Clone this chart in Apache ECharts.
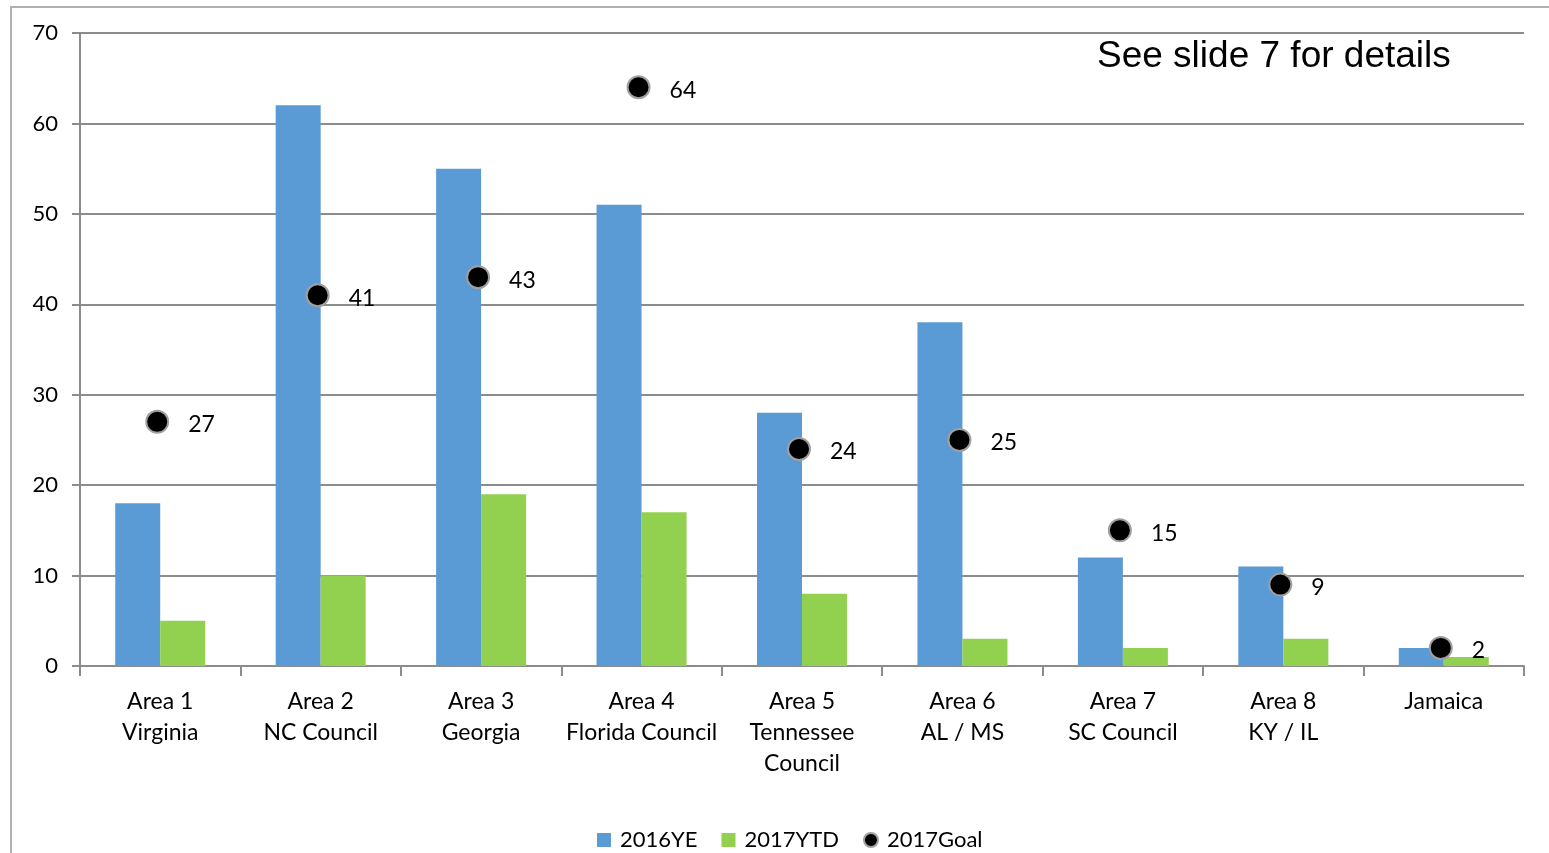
<!DOCTYPE html>
<html><head><meta charset="utf-8">
<script src="https://cdn.jsdelivr.net/npm/echarts@6/dist/echarts.min.js"></script>
<style>html,body{margin:0;padding:0;background:#fff}#c{width:1549px;height:853px}</style>
</head><body><div id="c"></div>
<script>
const categories = ['Area 1\nVirginia','Area 2\nNC Council','Area 3\nGeorgia','Area 4\nFlorida Council','Area 5\nTennessee\nCouncil','Area 6\nAL / MS','Area 7\nSC Council','Area 8\nKY / IL','Jamaica'];
const ye2016 = [18, 62, 55, 51, 28, 38, 12, 11, 2];
const ytd2017 = [5, 10, 19, 17, 8, 3, 2, 3, 1];
const goal2017 = [27, 41, 43, 64, 24, 25, 15, 9, 2];
const yTicks = [0, 10, 20, 30, 40, 50, 60, 70];

const chart = echarts.init(document.getElementById('c'));
const font = 'Lato, "Open Sans", sans-serif';
chart.setOption({
  animation: false,
  graphic: [
    {type:'rect', shape:{x:11, y:7, width:1600, height:900}, style:{fill:'none', stroke:'#b0b0b0', lineWidth:2}, silent:true},
    {type:'text', left:1097, top:38, style:{text:'See slide 7 for details', font:'37px "Liberation Sans", Arial, sans-serif', fill:'#000'}}
  ],
  grid: {left:80, right:25, top:33, bottom:187},
  legend: {
    top: 824, left: 592, itemGap: 24, itemWidth: 14, itemHeight: 14,
    textStyle: {fontSize: 22, fontFamily: font, color:'#000', padding:[0,0,0,4]},
    data: [
      {name:'2016YE', icon:'rect'},
      {name:'2017YTD', icon:'rect'},
      {name:'2017Goal', icon:'circle'}
    ]
  },
  xAxis: {
    type:'category', data: categories,
    axisLine:{lineStyle:{color:'#8c8c8c', width:2}},
    axisTick:{show:true, length:10, lineStyle:{color:'#8c8c8c', width:2}},
    axisLabel:{fontSize:23, fontFamily:font, color:'#000', lineHeight:31, margin:20, interval:0}
  },
  yAxis: {
    type:'value', min:0, max:70, interval:10,
    axisLine:{show:true, lineStyle:{color:'#8c8c8c', width:2}},
    axisTick:{show:true, length:8, lineStyle:{color:'#8c8c8c', width:2}},
    splitLine:{lineStyle:{color:'#8c8c8c', width:2}},
    axisLabel:{fontSize:22, fontFamily:font, color:'#000', margin:22,
      formatter: v => yTicks.includes(v) ? String(v) : ''}
  },
  series: [
    {name:'2016YE', type:'bar', data: ye2016, itemStyle:{color:'#5b9bd5'}, barWidth:45, barGap:'0%'},
    {name:'2017YTD', type:'bar', data: ytd2017, itemStyle:{color:'#92d050'}, barWidth:45, barGap:'0%'},
    {name:'2017Goal', type:'scatter', data: goal2017, symbol:'circle', symbolSize:22, symbolOffset:[-3,0],
      itemStyle:{color:'#000', borderColor:'#a0a0a0', borderWidth:2, opacity:1},
      label:{show:true, position:'right', distance:19, fontSize:23, fontFamily:font, color:'#000', offset:[0,3]},
      z:5}
  ]
});
</script></body></html>
